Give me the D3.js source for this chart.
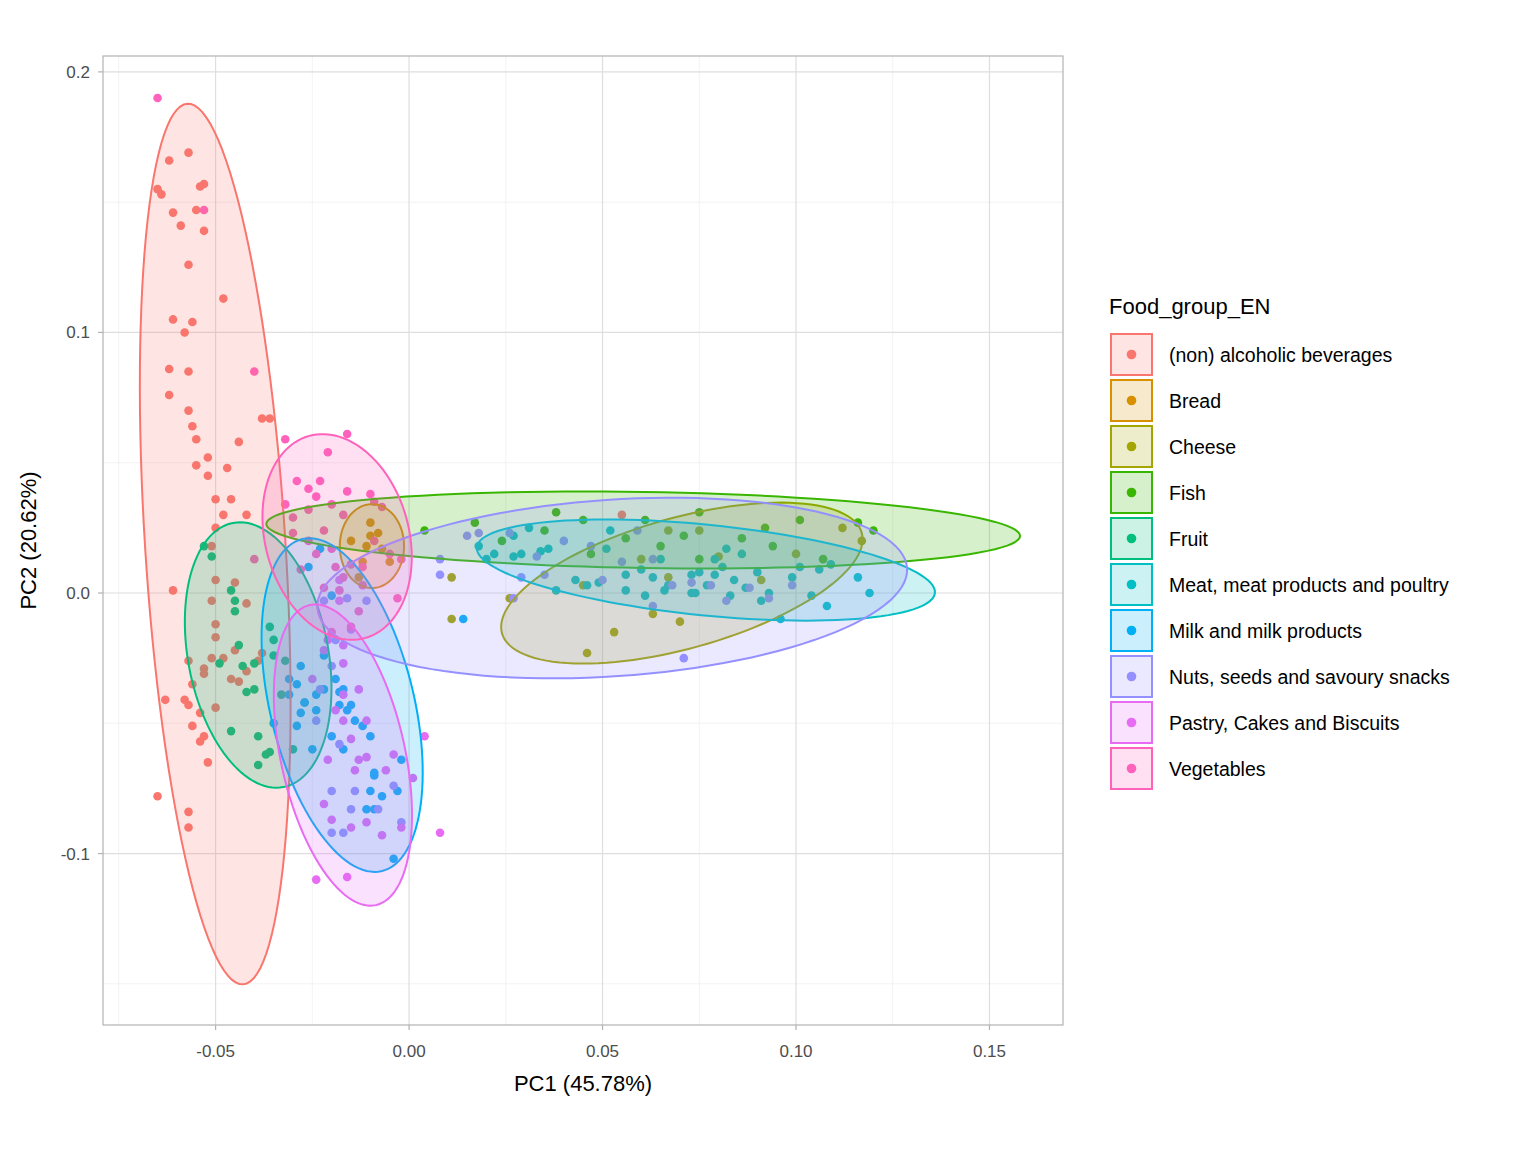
<!DOCTYPE html>
<html>
<head>
<meta charset="utf-8">
<script src="https://cdn.jsdelivr.net/npm/d3@7"></script>
<style>
  body { margin: 0; background: #fff; }
  text { font-family: "Liberation Sans", Arial, sans-serif; }
</style>
</head>
<body>
<div id="vis"></div>
<script>
// groups and colours
const groups = ['(non) alcoholic beverages', 'Bread', 'Cheese', 'Fish', 'Fruit',
  'Meat, meat products and poultry', 'Milk and milk products',
  'Nuts, seeds and savoury snacks', 'Pastry, Cakes and Biscuits', 'Vegetables'];
const colors = ['#F8766D', '#D89000', '#A3A500', '#39B600', '#00BF7D',
  '#00BFC4', '#00B0F6', '#9590FF', '#E76BF3', '#FF62BC'];

const xTicks = [-0.05, 0, 0.05, 0.10, 0.15];
const xTickLabels = ['-0.05', '0.00', '0.05', '0.10', '0.15'];
const yTicks = [-0.1, 0, 0.1, 0.2];
const yTickLabels = ['-0.1', '0.0', '0.1', '0.2'];
const xMinor = [-0.075, -0.025, 0.025, 0.075, 0.125];
const yMinor = [-0.15, -0.05, 0.05, 0.15];

// PC1/PC2 scores per group
const beverages = [[-0.065,0.155],[-0.064,0.153],[-0.062,0.166],[-0.057,0.169],[-0.061,0.146],[-0.059,0.141],
  [-0.054,0.156],[-0.053,0.157],[-0.053,0.139],[-0.055,0.147],[-0.057,0.126],[-0.061,0.105],[-0.056,0.104],
  [-0.058,0.100],[-0.048,0.113],[-0.062,0.086],[-0.057,0.085],[-0.062,0.076],[-0.057,0.070],[-0.056,0.064],
  [-0.055,0.059],[-0.044,0.058],[-0.052,0.052],[-0.055,0.049],[-0.047,0.048],[-0.052,0.045],[-0.050,0.036],
  [-0.046,0.036],[-0.048,0.030],[-0.042,0.030],[-0.050,0.025],[-0.051,0.018],[-0.061,0.001],[-0.050,0.005],
  [-0.045,0.004],[-0.051,-0.003],[-0.042,-0.004],[-0.050,-0.012],[-0.050,-0.017],[-0.057,-0.026],[-0.053,-0.029],
  [-0.051,-0.025],[-0.056,-0.035],[-0.053,-0.031],[-0.058,-0.041],[-0.057,-0.043],[-0.054,-0.046],[-0.056,-0.051],
  [-0.053,-0.055],[-0.054,-0.057],[-0.063,-0.041],[-0.057,-0.084],[-0.057,-0.090],[-0.065,-0.078],[-0.052,-0.065],
  [-0.048,-0.025],[-0.046,-0.033],[-0.044,-0.034],[-0.042,-0.030],[-0.039,-0.026],[-0.038,-0.023],[-0.045,-0.022],
  [-0.050,-0.044],[-0.038,0.067],[-0.036,0.067],[0.055,0.030]];
const bread = [[-0.010,0.027],[-0.008,0.023],[-0.007,0.017],[-0.011,0.018],[-0.005,0.012],[-0.012,0.012],
  [-0.013,0.006],[-0.015,0.020],[-0.010,0.022]];
const cheese = [[0.046,-0.023],[0.053,-0.015],[0.070,-0.011],[0.063,-0.008],[0.026,-0.002],[0.045,0.003],
  [0.011,0.006],[0.067,0.006],[0.075,0.024],[0.091,0.005],[0.100,0.015],[0.112,0.025],[0.117,0.020],
  [0.067,0.024],[0.080,0.014],[0.060,0.013],[0.011,-0.010]];
const fish = [[0.004,0.024],[0.017,0.027],[0.038,0.031],[0.045,0.028],[0.061,0.028],[0.071,0.022],[0.075,0.031],
  [0.092,0.025],[0.116,0.027],[0.120,0.024],[0.107,0.013],[0.075,0.013],[0.094,0.018],[0.024,0.020],
  [0.035,0.024],[0.056,0.021],[0.086,0.021],[0.047,0.015],[0.065,0.018],[0.101,0.028]];
const fruit = [[-0.053,0.018],[-0.051,0.014],[-0.045,-0.003],[-0.045,-0.007],[-0.044,-0.020],[-0.043,-0.028],
  [-0.042,-0.038],[-0.046,-0.053],[-0.039,-0.055],[-0.037,-0.062],[-0.036,-0.061],[-0.030,-0.060],[-0.035,-0.024],
  [-0.040,-0.027],[-0.049,-0.027],[-0.036,-0.013],[-0.035,-0.018],[-0.032,-0.026],[-0.027,-0.042],[-0.040,-0.037],
  [-0.039,-0.066],[-0.046,0.001],[-0.033,-0.039]];
const meat = [[0.018,0.018],[0.022,0.015],[0.027,0.022],[0.031,0.025],[0.034,0.016],[0.036,0.017],[0.043,0.005],
  [0.046,0.003],[0.049,0.004],[0.056,0.007],[0.056,0.001],[0.060,0.009],[0.063,0.006],[0.067,0.003],[0.073,0.007],
  [0.075,0.008],[0.079,0.013],[0.081,0.010],[0.084,0.005],[0.087,0.002],[0.090,0.008],[0.093,0.000],[0.096,-0.010],
  [0.099,0.006],[0.104,-0.001],[0.106,0.009],[0.109,0.011],[0.116,0.006],[0.119,0.000],[0.086,0.015],[0.082,0.017],
  [0.079,0.007],[0.077,0.003],[0.074,0.000],[0.066,0.001],[0.038,0.001],[0.029,0.015],[0.020,0.013],[0.052,0.024],
  [0.051,0.017],[0.091,-0.003],[0.108,-0.005],[0.027,0.014],[0.101,0.010],[0.061,-0.001],[0.065,0.013],
  [0.083,-0.001],[0.073,0.000]];
const milk = [[-0.026,0.010],[-0.023,0.017],[-0.028,-0.028],[-0.031,-0.033],[-0.028,-0.046],[-0.027,-0.042],
  [-0.024,-0.039],[-0.022,-0.037],[-0.018,-0.038],[-0.018,-0.043],[-0.016,-0.045],[-0.015,-0.043],[-0.020,-0.055],
  [-0.017,-0.060],[-0.010,-0.055],[-0.002,-0.064],[-0.009,-0.069],[-0.009,-0.070],[-0.010,-0.076],[-0.009,-0.083],
  [-0.011,-0.083],[-0.004,-0.102],[-0.003,-0.076],[-0.014,-0.049],[-0.012,-0.051],[-0.025,-0.060],[-0.029,-0.051],
  [-0.031,-0.039],[-0.035,-0.050],[0.014,-0.010],[-0.022,-0.024],[-0.029,-0.035],[-0.024,-0.045],[-0.007,-0.078],
  [-0.017,-0.037],[-0.019,-0.033],[-0.020,-0.001]];
const nuts = [[0.008,0.007],[0.015,0.022],[0.018,0.023],[0.026,0.023],[0.027,-0.002],[0.029,0.006],[0.033,0.014],
  [0.040,0.020],[0.047,0.018],[0.050,0.005],[0.055,0.012],[0.059,0.024],[0.063,-0.005],[0.063,0.013],[0.068,0.003],
  [0.071,-0.025],[0.073,0.004],[0.078,0.003],[0.082,-0.003],[0.088,0.002],[0.093,-0.002],[0.099,0.003],
  [-0.016,-0.002],[-0.011,-0.003],[-0.015,-0.014],[-0.019,-0.018],[-0.020,-0.028],[-0.024,-0.049],[-0.018,-0.058],
  [-0.020,-0.076],[-0.020,-0.092],[-0.008,-0.083],[-0.004,-0.074],[-0.002,-0.088],[-0.015,-0.083],[-0.014,-0.076],
  [-0.017,-0.092],[-0.023,-0.037],[-0.022,-0.003],[0.035,0.007],[0.008,0.013]];
const pastry = [[-0.025,-0.033],[-0.022,-0.022],[-0.017,-0.020],[-0.017,-0.027],[-0.017,-0.039],[-0.019,-0.045],
  [-0.017,-0.049],[-0.015,-0.056],[-0.011,-0.049],[-0.021,-0.064],[-0.014,-0.068],[-0.011,-0.063],[-0.022,-0.081],
  [-0.015,-0.090],[-0.011,-0.088],[-0.016,-0.109],[-0.024,-0.110],[-0.002,-0.090],[0.001,-0.071],[0.004,-0.055],
  [0.008,-0.092],[-0.006,-0.068],[-0.013,-0.064],[-0.018,0.005],[-0.018,-0.003],[-0.021,-0.018],[-0.013,-0.037],
  [-0.004,-0.062],[-0.020,-0.087],[-0.007,-0.093]];
const vegetables = [[-0.065,0.190],[-0.053,0.147],[-0.040,0.085],[-0.032,0.059],[-0.016,0.061],[-0.021,0.054],
  [-0.029,0.043],[-0.023,0.043],[-0.026,0.040],[-0.024,0.037],[-0.032,0.034],[-0.020,0.034],[-0.016,0.039],
  [-0.010,0.038],[-0.009,0.035],[-0.007,0.033],[-0.030,0.023],[-0.026,0.020],[-0.022,0.024],[-0.020,0.017],
  [-0.015,0.011],[-0.012,0.010],[-0.019,0.010],[-0.028,0.009],[-0.024,0.015],[-0.017,0.006],[-0.012,0.003],
  [-0.018,0.001],[-0.003,-0.002],[-0.013,-0.007],[-0.015,-0.013],[-0.020,-0.015],[-0.022,0.002],[-0.009,0.020],
  [-0.005,0.015],[-0.002,0.013],[-0.040,0.013],[-0.030,0.029],[-0.017,0.030],[-0.026,0.032]];
const points = [beverages, bread, cheese, fish, fruit, meat, milk, nuts, pastry, vegetables];

// confidence ellipses: centre, major half-axis vector, minor half-axis vector (PC units)
const ellCentre = [[-0.0501,0.0188],[-0.0096,0.018],[0.0705,0.0038],[0.0605,0.0242],[-0.039,-0.0238],
  [0.0767,0.0088],[-0.0173,-0.043],[0.0525,0.0019],[-0.0171,-0.0622],[-0.0186,0.0215]];
const ellMajor = [[-0.0072,0.169],[0,0.0161],[0.0465,0.0192],[0.0974,-0.0023],[-0.0065,0.0507],
  [0.0592,-0.0088],[0.0103,-0.0637],[0.0762,0.0077],[0.0085,-0.0576],[-0.0072,0.0388]];
const ellMinor = [[0.0181,0.0017],[0.0083,0],[0.0044,-0.0242],[0,0.0146],[0.0178,0.005],
  [-0.0012,-0.0173],[0.0181,0.0065],[0.0016,-0.0338],[0.0157,0.005],[0.0179,0.0073]];

//layout
const W = 1536, H = 1152;
const panel = { left: 103, right: 1063, top: 56, bottom: 1025 };
const x = d3.scaleLinear().domain([-0.0791, 0.169]).range([panel.left, panel.right]);
const y = d3.scaleLinear().domain([0.2061, -0.1658]).range([panel.top, panel.bottom]);

const svg = d3.select('#vis').append('svg').attr('width', W).attr('height', H);

//grid
const grid = svg.append('g');
xMinor.forEach(v => grid.append('line').attr('x1', x(v)).attr('x2', x(v))
  .attr('y1', panel.top).attr('y2', panel.bottom).attr('stroke', '#EFEFEF').attr('stroke-width', 0.8));
yMinor.forEach(v => grid.append('line').attr('y1', y(v)).attr('y2', y(v))
  .attr('x1', panel.left).attr('x2', panel.right).attr('stroke', '#EFEFEF').attr('stroke-width', 0.8));
xTicks.forEach(v => grid.append('line').attr('x1', x(v)).attr('x2', x(v))
  .attr('y1', panel.top).attr('y2', panel.bottom).attr('stroke', '#DEDEDE').attr('stroke-width', 1.2));
yTicks.forEach(v => grid.append('line').attr('y1', y(v)).attr('y2', y(v))
  .attr('x1', panel.left).attr('x2', panel.right).attr('stroke', '#DEDEDE').attr('stroke-width', 1.2));

//points
const plot = svg.append('g');
points.forEach((pts, i) => {
  plot.selectAll(null).data(pts).enter().append('circle')
    .attr('cx', d => x(d[0])).attr('cy', d => y(d[1])).attr('r', 4.3)
    .attr('fill', colors[i]);
});

//ellipses
const line = d3.line().x(d => x(d[0])).y(d => y(d[1]));
ellCentre.forEach((c, i) => {
  const M = ellMajor[i], N = ellMinor[i];
  const path = d3.range(0, 361, 3).map(a => {
    const t = a * Math.PI / 180;
    return [c[0] + Math.cos(t) * M[0] + Math.sin(t) * N[0], c[1] + Math.cos(t) * M[1] + Math.sin(t) * N[1]];
  });
  plot.append('path').attr('d', line(path) + 'Z')
    .attr('fill', colors[i]).attr('fill-opacity', 0.2)
    .attr('stroke', colors[i]).attr('stroke-width', 2);
});

//panel border
svg.append('rect').attr('x', panel.left).attr('y', panel.top)
  .attr('width', panel.right - panel.left).attr('height', panel.bottom - panel.top)
  .attr('fill', 'none').attr('stroke', '#B3B3B3').attr('stroke-width', 1.2);

//axes
xTicks.forEach((v, i) => {
  svg.append('line').attr('x1', x(v)).attr('x2', x(v)).attr('y1', panel.bottom).attr('y2', panel.bottom + 5)
    .attr('stroke', '#B3B3B3').attr('stroke-width', 1.2);
  svg.append('text').attr('x', x(v)).attr('y', panel.bottom + 32).attr('text-anchor', 'middle')
    .attr('font-size', 17).attr('fill', '#4D4D4D').text(xTickLabels[i]);
});
yTicks.forEach((v, i) => {
  svg.append('line').attr('x1', panel.left - 5).attr('x2', panel.left).attr('y1', y(v)).attr('y2', y(v))
    .attr('stroke', '#B3B3B3').attr('stroke-width', 1.2);
  svg.append('text').attr('x', panel.left - 13).attr('y', y(v)).attr('dy', '0.35em').attr('text-anchor', 'end')
    .attr('font-size', 17).attr('fill', '#4D4D4D').text(yTickLabels[i]);
});
svg.append('text').attr('x', (panel.left + panel.right) / 2).attr('y', 1091).attr('text-anchor', 'middle')
  .attr('font-size', 22).text('PC1 (45.78%)');
svg.append('text').attr('transform', `translate(36, ${(panel.top + panel.bottom) / 2}) rotate(-90)`)
  .attr('text-anchor', 'middle').attr('font-size', 22).text('PC2 (20.62%)');

//legend
const lg = svg.append('g').attr('transform', 'translate(1110, 0)');
lg.append('text').attr('x', -1).attr('y', 314).attr('font-size', 22).text('Food_group_EN');
groups.forEach((g, i) => {
  const yy = 334 + i * 46;
  lg.append('rect').attr('x', 1).attr('y', yy).attr('width', 41).attr('height', 41)
    .attr('fill', colors[i]).attr('fill-opacity', 0.2).attr('stroke', colors[i]).attr('stroke-width', 2);
  lg.append('circle').attr('cx', 21.5).attr('cy', yy + 20.5).attr('r', 4.8).attr('fill', colors[i]);
  lg.append('text').attr('x', 59).attr('y', yy + 21).attr('dy', '0.35em').attr('font-size', 19.5).text(g);
});
</script>
</body>
</html>
